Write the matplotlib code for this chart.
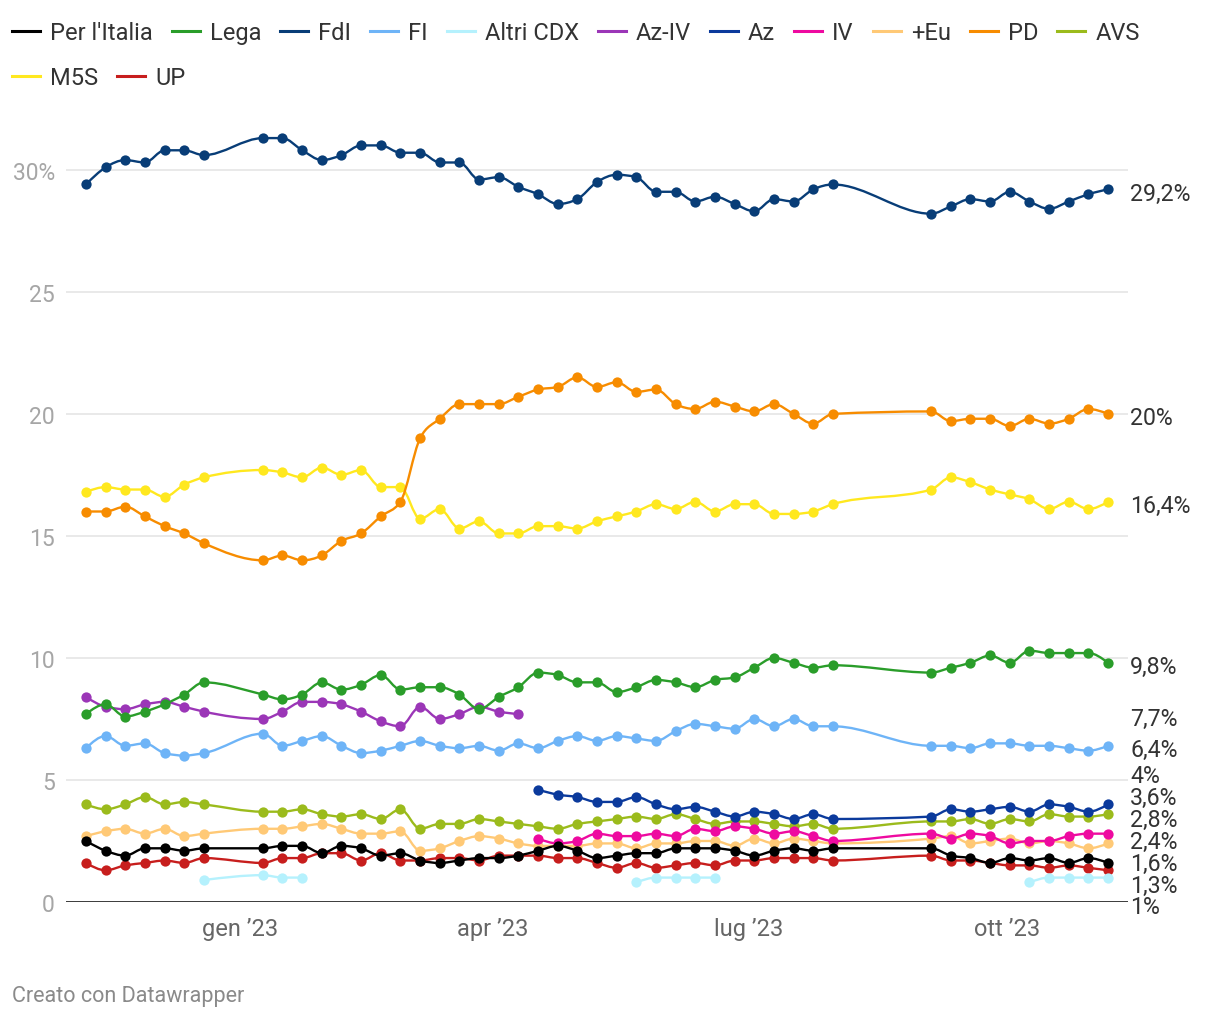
"""
Weekly poll tracker (Italy, Nov 2022 - Nov 2023) redrawn in the Datawrapper style.

Run:
    python3 plot.py
Saves out.png next to where it is run.
"""

import matplotlib

matplotlib.use("Agg")
import matplotlib.dates as mdates
import matplotlib.pyplot as plt
import numpy as np
from matplotlib.lines import Line2D
from matplotlib.patches import PathPatch
from matplotlib.path import Path

plt.rcParams["font.family"] = ["Roboto", "DejaVu Sans"]

# poll dates (no polls over the holidays and in August)
DATES = [
    "2022-11-07", "2022-11-14", "2022-11-21", "2022-11-28", "2022-12-05", "2022-12-12", "2022-12-19",
    "2023-01-09", "2023-01-16", "2023-01-23", "2023-01-30", "2023-02-06", "2023-02-13", "2023-02-20",
    "2023-02-27", "2023-03-06", "2023-03-13", "2023-03-20", "2023-03-27", "2023-04-03", "2023-04-10",
    "2023-04-17", "2023-04-24", "2023-05-01", "2023-05-08", "2023-05-15", "2023-05-22", "2023-05-29",
    "2023-06-05", "2023-06-12", "2023-06-19", "2023-06-26", "2023-07-03", "2023-07-10", "2023-07-17",
    "2023-07-24", "2023-07-31",
    "2023-09-04", "2023-09-11", "2023-09-18", "2023-09-25", "2023-10-02", "2023-10-09", "2023-10-16",
    "2023-10-23", "2023-10-30", "2023-11-06",
]

PARTIES = ["Per l'Italia", "Lega", "FdI", "FI", "Altri CDX", "Az-IV", "Az", "IV", "+Eu", "PD", "AVS", "M5S", "UP"]
COLORS = ["#000000", "#2a9d2a", "#083d77", "#6eb4f7", "#b5f1fd", "#9b36b7", "#0b3a9c",
          "#ee0aa0", "#ffc976", "#f78c00", "#9bbb1c", "#ffe81f", "#c71e1d"]

per_italia = [2.5, 2.1, 1.9, 2.2, 2.2, 2.1, 2.2,
              2.2, 2.3, 2.3, 2.0, 2.3, 2.2, 1.9, 2.0, 1.7, 1.6, 1.7, 1.8, 1.8, 1.9, 2.1, 2.3, 2.1, 1.8,
              1.9, 2.0, 2.0, 2.2, 2.2, 2.2, 2.1, 1.9, 2.1, 2.2, 2.1, 2.2,
              2.2, 1.9, 1.8, 1.6, 1.8, 1.7, 1.8, 1.6, 1.8, 1.6]
lega = [7.7, 8.1, 7.6, 7.8, 8.1, 8.5, 9.0,
        8.5, 8.3, 8.5, 9.0, 8.7, 8.9, 9.3, 8.7, 8.8, 8.8, 8.5, 7.9, 8.4, 8.8, 9.4, 9.3, 9.0, 9.0,
        8.6, 8.8, 9.1, 9.0, 8.8, 9.1, 9.2, 9.6, 10.0, 9.8, 9.6, 9.7,
        9.4, 9.6, 9.8, 10.1, 9.8, 10.3, 10.2, 10.2, 10.2, 9.8]
fdi = [29.4, 30.1, 30.4, 30.3, 30.8, 30.8, 30.6,
       31.3, 31.3, 30.8, 30.4, 30.6, 31.0, 31.0, 30.7, 30.7, 30.3, 30.3, 29.6, 29.7, 29.3, 29.0, 28.6, 28.8, 29.5,
       29.8, 29.7, 29.1, 29.1, 28.7, 28.9, 28.6, 28.3, 28.8, 28.7, 29.2, 29.4,
       28.2, 28.5, 28.8, 28.7, 29.1, 28.7, 28.4, 28.7, 29.0, 29.2]
fi = [6.3, 6.8, 6.4, 6.5, 6.1, 6.0, 6.1,
      6.9, 6.4, 6.6, 6.8, 6.4, 6.1, 6.2, 6.4, 6.6, 6.4, 6.3, 6.4, 6.2, 6.5, 6.3, 6.6, 6.8, 6.6,
      6.8, 6.7, 6.6, 7.0, 7.3, 7.2, 7.1, 7.5, 7.2, 7.5, 7.2, 7.2,
      6.4, 6.4, 6.3, 6.5, 6.5, 6.4, 6.4, 6.3, 6.2, 6.4]
altri_cdx = ([None] * 6 + [0.9, 1.1, 1.0, 1.0] + [None] * 16
             + [0.8, 1.0, 1.0, 1.0, 1.0] + [None] * 11 + [0.8, 1.0, 1.0, 1.0, 1.0])
az_iv = [8.4, 8.0, 7.9, 8.1, 8.2, 8.0, 7.8,
         7.5, 7.8, 8.2, 8.2, 8.1, 7.8, 7.4, 7.2, 8.0, 7.5, 7.7, 8.0, 7.8, 7.7] + [None] * 26
az = [None] * 21 + [4.6, 4.4, 4.3, 4.1, 4.1, 4.3, 4.0, 3.8, 3.9, 3.7, 3.5, 3.7, 3.6, 3.4, 3.6, 3.4,
                    3.5, 3.8, 3.7, 3.8, 3.9, 3.7, 4.0, 3.9, 3.7, 4.0]
iv = [None] * 21 + [2.6, 2.4, 2.5, 2.8, 2.7, 2.7, 2.8, 2.7, 3.0, 2.9, 3.1, 3.0, 2.8, 2.9, 2.7, 2.5,
                    2.8, 2.6, 2.8, 2.7, 2.4, 2.5, 2.5, 2.7, 2.8, 2.8]
piu_eu = [2.7, 2.9, 3.0, 2.8, 3.0, 2.7, 2.8,
          3.0, 3.0, 3.1, 3.2, 3.0, 2.8, 2.8, 2.9, 2.1, 2.2, 2.5, 2.7, 2.6, 2.4, 2.3, 2.3, 2.3, 2.4,
          2.4, 2.2, 2.4, 2.4, 2.5, 2.5, 2.3, 2.6, 2.4, 2.6, 2.5, 2.4,
          2.6, 2.7, 2.4, 2.5, 2.6, 2.4, 2.5, 2.4, 2.2, 2.4]
pd_ = [16.0, 16.0, 16.2, 15.8, 15.4, 15.1, 14.7,
       14.0, 14.2, 14.0, 14.2, 14.8, 15.1, 15.8, 16.4, 19.0, 19.8, 20.4, 20.4, 20.4, 20.7, 21.0, 21.1, 21.5, 21.1,
       21.3, 20.9, 21.0, 20.4, 20.2, 20.5, 20.3, 20.1, 20.4, 20.0, 19.6, 20.0,
       20.1, 19.7, 19.8, 19.8, 19.5, 19.8, 19.6, 19.8, 20.2, 20.0]
avs = [4.0, 3.8, 4.0, 4.3, 4.0, 4.1, 4.0,
       3.7, 3.7, 3.8, 3.6, 3.5, 3.6, 3.4, 3.8, 3.0, 3.2, 3.2, 3.4, 3.3, 3.2, 3.1, 3.0, 3.2, 3.3,
       3.4, 3.5, 3.4, 3.6, 3.4, 3.2, 3.3, 3.3, 3.2, 3.1, 3.2, 3.0,
       3.3, 3.3, 3.4, 3.2, 3.4, 3.3, 3.6, 3.5, 3.5, 3.6]
m5s = [16.8, 17.0, 16.9, 16.9, 16.6, 17.1, 17.4,
       17.7, 17.6, 17.4, 17.8, 17.5, 17.7, 17.0, 17.0, 15.7, 16.1, 15.3, 15.6, 15.1, 15.1, 15.4, 15.4, 15.3, 15.6,
       15.8, 16.0, 16.3, 16.1, 16.4, 16.0, 16.3, 16.3, 15.9, 15.9, 16.0, 16.3,
       16.9, 17.4, 17.2, 16.9, 16.7, 16.5, 16.1, 16.4, 16.1, 16.4]
up = [1.6, 1.3, 1.5, 1.6, 1.7, 1.6, 1.8,
      1.6, 1.8, 1.8, 2.0, 2.0, 1.7, 2.0, 1.7, 1.7, 1.8, 1.8, 1.7, 1.9, 1.9, 1.9, 1.8, 1.8, 1.6,
      1.4, 1.6, 1.4, 1.5, 1.6, 1.5, 1.7, 1.7, 1.8, 1.8, 1.8, 1.7,
      1.9, 1.7, 1.7, 1.6, 1.5, 1.5, 1.4, 1.5, 1.4, 1.3]

SERIES = [per_italia, lega, fdi, fi, altri_cdx, az_iv, az, iv, piu_eu, pd_, avs, m5s, up]

X_TICKS = ["2023-01-01", "2023-04-01", "2023-07-01", "2023-10-01"]
X_TICK_LABELS = ["gen \u201923", "apr \u201923", "lug \u201923", "ott \u201923"]
Y_TICKS = [0, 5, 10, 15, 20, 25, 30]
Y_TICK_LABELS = ["0", "5", "10", "15", "20", "25", "30%"]

W, H = 1220, 1020


def runs(xs, vals):
    """Split a series into runs of consecutive non-missing points."""
    out, cur = [], []
    for x, v in zip(xs, vals):
        if v is None:
            if cur:
                out.append(cur)
            cur = []
        else:
            cur.append((x, v))
    if cur:
        out.append(cur)
    return out


def monotone_path(pts):
    """Bezier path like d3.curveMonotoneX through the given points."""
    xs = np.array([p[0] for p in pts], dtype=float)
    ys = np.array([p[1] for p in pts], dtype=float)
    n = len(xs)
    if n < 3:
        return Path(np.column_stack([xs, ys]))
    h = np.diff(xs)
    s = np.diff(ys) / h
    t = np.zeros(n)
    for i in range(1, n - 1):
        p = (s[i - 1] * h[i] + s[i] * h[i - 1]) / (h[i - 1] + h[i])
        sg = (1 if s[i - 1] >= 0 else -1) + (1 if s[i] >= 0 else -1)
        t[i] = sg * min(abs(s[i - 1]), abs(s[i]), 0.5 * abs(p))
    t[0] = (3 * s[0] - t[1]) / 2
    t[-1] = (3 * s[-1] - t[-2]) / 2
    verts = [(xs[0], ys[0])]
    codes = [Path.MOVETO]
    for i in range(n - 1):
        dx = (xs[i + 1] - xs[i]) / 3
        verts += [(xs[i] + dx, ys[i] + dx * t[i]),
                  (xs[i + 1] - dx, ys[i + 1] - dx * t[i + 1]),
                  (xs[i + 1], ys[i + 1])]
        codes += [Path.CURVE4] * 3
    return Path(verts, codes)


def spread(targets, gap, floor):
    """Push label positions (display px, top first) apart; keep them above floor."""
    pos = list(targets)
    for _ in range(500):
        moved = False
        for i in range(len(pos) - 1):
            d = pos[i] - pos[i + 1]
            if d < gap - 1e-6:
                shift = (gap - d) / 2
                pos[i] += shift
                pos[i + 1] -= shift
                moved = True
        if pos[-1] < floor:
            pos[-1] = floor
            moved = True
        if not moved:
            break
    return pos


def fmt_pct(v):
    txt = f"{v:.1f}".rstrip("0").rstrip(".")
    return txt.replace(".", ",") + "%"


fig = plt.figure(figsize=(W / 100, H / 100), dpi=100)
ax = fig.add_axes([66 / W, (H - 903) / H, (1128 - 66) / W, (903 - 122) / H])

xnum = mdates.date2num(np.array(DATES, dtype="datetime64[D]"))
n_series = len(SERIES)
for k, (vals, color) in enumerate(zip(SERIES, COLORS)):
    z = 10 + 2 * (n_series - k)
    for run in runs(xnum, vals):
        path = monotone_path(run)
        ax.add_patch(PathPatch(path, fill=False, edgecolor=color, lw=1.7,
                               capstyle="round", joinstyle="round", zorder=z))
        ax.plot([p[0] for p in run], [p[1] for p in run], "o", ms=7.4,
                color=color, mec="none", zorder=z + 1)

ax.set_xlim(xnum[0] - 7.1, xnum[-1] + 7.1)
ax.set_ylim(0, 32)
for sp in ax.spines.values():
    sp.set_visible(False)
ax.set_yticks(Y_TICKS)
ax.set_yticklabels(Y_TICK_LABELS)
ax.set_xticks(mdates.date2num(np.array(X_TICKS, dtype="datetime64[D]")))
ax.set_xticklabels(X_TICK_LABELS)
ax.tick_params(axis="y", length=0, pad=8, labelsize=16.5, labelcolor="#a6a6a6")
ax.tick_params(axis="x", length=0, pad=11, labelsize=17, labelcolor="#666666")
ax.yaxis.grid(True, color="#e5e5e5", lw=1.2, zorder=0)
ax.set_axisbelow(True)
ax.axhline(0, color="#1c1c1c", lw=1.9, zorder=5)

# value labels at the right edge
last = [next(v for v in reversed(vals) if v is not None) for vals in SERIES]
order = sorted(range(n_series), key=lambda i: -last[i])
fig.canvas.draw()
targets = [ax.transData.transform((xnum[-1], last[i]))[1] - 4 for i in order]
placed = spread(targets, 22, H - 908)
for i, ypix in zip(order, placed):
    fig.text(1130 / W, ypix / H, fmt_pct(last[i]), fontsize=16.7,
             color="#333333", va="center", ha="left")

# legend on top, two rows
renderer = fig.canvas.get_renderer()
x_px, row_y = 12, [H - 32, H - 77]
row = 0
for name, color in zip(PARTIES, COLORS):
    t = fig.text(0, 0, name, fontsize=17, color="#333333", va="baseline", ha="left")
    w = t.get_window_extent(renderer).width
    if x_px + 38 + w > W - 5:
        row += 1
        x_px = 12
    fig.add_artist(Line2D([x_px / W, (x_px + 28) / W], [row_y[row] / H] * 2,
                          color=color, lw=2.2, transform=fig.transFigure))
    t.set_position(((x_px + 38) / W, (row_y[row] - 8) / H))
    x_px += 38 + w + 19

fig.text(12 / W, (H - 997) / H, "Creato con Datawrapper", fontsize=15.5,
         color="#8a8a8a", va="center", ha="left")

fig.savefig("out.png", dpi=100)
